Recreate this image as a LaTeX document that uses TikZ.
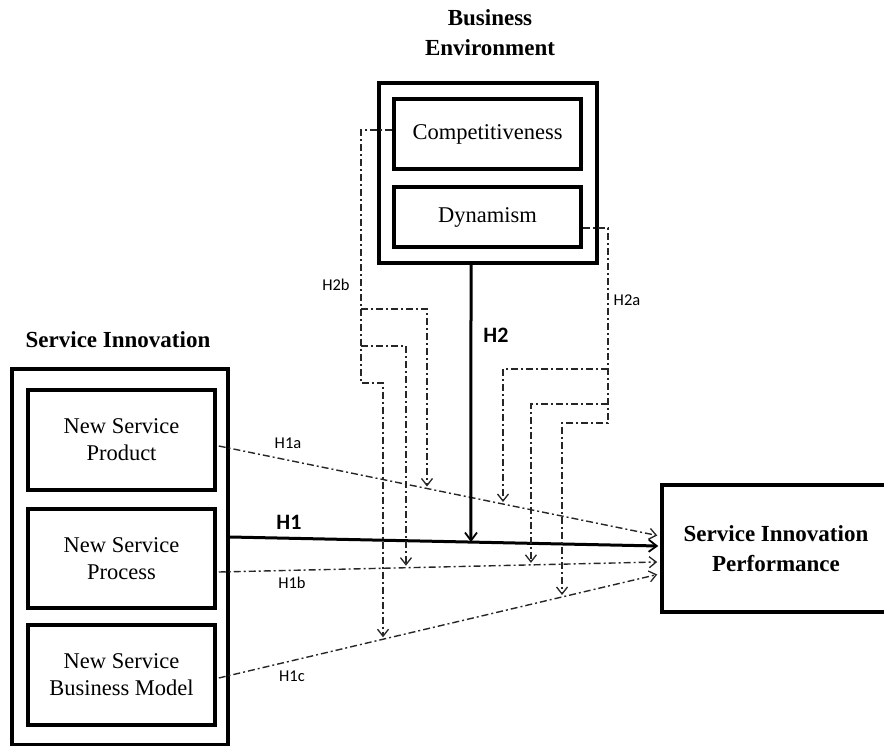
\documentclass[tikz,border=0pt]{standalone}
\usepackage{fontspec}
\setmainfont{Liberation Serif}
\newfontfamily\lblfont{Carlito}
\usetikzlibrary{arrows.meta,calc}
\begin{document}
\begin{tikzpicture}[x=1bp,y=-1bp,
  box/.style={draw, line width=3.5bp, minimum width=187bp, inner sep=0pt, align=center,
    font=\fontsize{22.5bp}{27bp}\selectfont},
  outer/.style={draw, line width=3.5bp, inner sep=0pt, align=center},
  titletext/.style={align=center, font=\bfseries\fontsize{23bp}{30bp}\selectfont},
  dd/.style={draw=black!85, line width=1.4bp, dash pattern=on 7bp off 3bp on 2bp off 3bp,
    -{Straight Barb[length=7bp,width=11bp,line width=1.3bp]}},
  strong/.style={draw=black, line width=3bp, -{Straight Barb[length=8bp,width=12bp,line width=1.8bp]}},
  lbl/.style={font=\lblfont\fontsize{16.5bp}{18bp}\selectfont, inner sep=0pt},
  blbl/.style={font=\lblfont\bfseries\fontsize{22bp}{24bp}\selectfont, inner sep=0pt}
]
\useasboundingbox (0,0) rectangle (884,746);

% Service Innovation group
\node[outer, minimum width=216bp, minimum height=376bp] (sibox) at (120,557) {};
\node[box, minimum height=100bp] (p1) at (121.5,440) {New Service\\Product};
\node[box, minimum height=99bp] (p2) at (121.5,558.5) {New Service\\Process};
\node[box, minimum height=100bp] (p3) at (121.5,675) {New Service\\Business Model};
\node[titletext] (sititle) at (118,340) {Service Innovation};

% Business Environment group
\node[outer, minimum width=218bp, minimum height=180bp] (bebox) at (488,173) {};
\node[box, minimum height=70bp] (comp) at (487.5,134) {Competitiveness};
\node[box, minimum height=60bp] (dyn) at (487.5,217) {Dynamism};
\node[titletext] (betitle) at (490,33) {Business\\Environment};

% Performance
\node[outer, minimum width=228bp, minimum height=127bp, titletext] (perf) at (776,548.5) {Service Innovation\\Performance};

% anchor coordinates
\coordinate (a1) at ($(p1.east)+(2,6)$);
\coordinate (a2) at ($(perf.west)+(-3,-13)$);
\coordinate (b1) at ($(p2.east)+(2,13.5)$);
\coordinate (b2) at ($(perf.west)+(-3,13.5)$);
\coordinate (c1) at ($(p3.east)+(2,3)$);
\coordinate (c2) at ($(perf.west)+(-3,26)$);
\coordinate (h1s) at ($(sibox.east)+(0,-20)$);
\coordinate (h1e) at ($(perf.west)+(-2,-2.5)$);
\coordinate (h2s) at ($(bebox.south)+(-17,0)$);
\coordinate (h2v) at ($(h2s)+(0,400)$);

% H1 lines
\draw[dd] (a1) -- (a2);
\draw[dd] (b1) -- (b2);
\draw[dd] (c1) -- (c2);
\draw[strong] (h1s) -- (h1e);
\draw[strong] (h2s) -- (intersection of h2s--h2v and h1s--h1e);

% vertical guides for the moderation arrows
\coordinate (v1t) at (427,0);  \coordinate (v1b) at (427,800);
\coordinate (v2t) at (406,0);  \coordinate (v2b) at (406,800);
\coordinate (v3t) at (383,0);  \coordinate (v3b) at (383,800);
\coordinate (v4t) at (503,0);  \coordinate (v4b) at (503,800);
\coordinate (v5t) at (531,0);  \coordinate (v5b) at (531,800);
\coordinate (v6t) at (562,0);  \coordinate (v6b) at (562,800);
\coordinate (t1) at (intersection of v1t--v1b and a1--a2);
\coordinate (t2) at (intersection of v2t--v2b and b1--b2);
\coordinate (t3) at (intersection of v3t--v3b and c1--c2);
\coordinate (t4) at (intersection of v4t--v4b and a1--a2);
\coordinate (t5) at (intersection of v5t--v5b and b1--b2);
\coordinate (t6) at (intersection of v6t--v6b and c1--c2);

% H2b (from Competitiveness)
\coordinate (kb1) at (361,309);
\coordinate (kb2) at (361,346);
\coordinate (kb3) at (361,383);
\draw[dd, shorten >=2bp] ($(comp.west)+(0,-4)$) -| (kb3) -| (t3);
\draw[dd, shorten >=2bp] (kb1) -| (t1);
\draw[dd, shorten >=2bp] (kb2) -| (t2);

% H2a (from Dynamism)
\coordinate (ka1) at (608,369);
\coordinate (ka2) at (608,404);
\coordinate (ka3) at (608,423);
\draw[dd, shorten >=2bp] ($(dyn.east)+(0,11)$) -| (ka3) -| (t6);
\draw[dd, shorten >=2bp] (ka1) -| (t4);
\draw[dd, shorten >=2bp] (ka2) -| (t5);

% labels
\node[lbl] (lh1a) at (288,443) {H1a};
\node[lbl] (lh1b) at (292,583) {H1b};
\node[lbl] (lh1c) at (292,676) {H1c};
\node[blbl] (lh1) at (289,522) {H1};
\node[blbl] (lh2) at (496,335) {H2};
\node[lbl] (lh2b) at (336,285) {H2b};
\node[lbl] (lh2a) at (627,300) {H2a};
\end{tikzpicture}
\end{document}
